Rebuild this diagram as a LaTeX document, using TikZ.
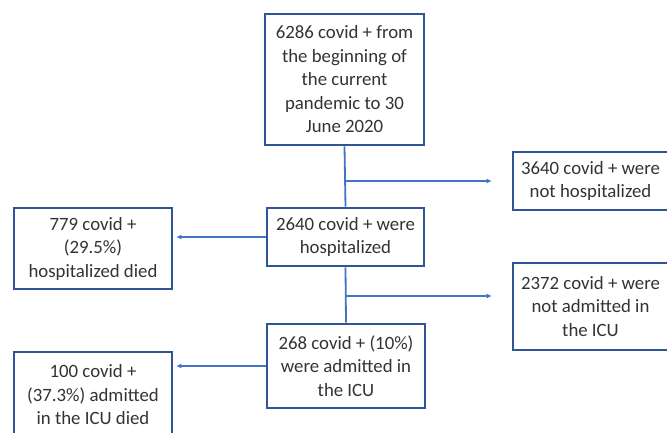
\documentclass[tikz,border=0pt]{standalone}
\usepackage{fontspec}
\setmainfont{Carlito}
\usetikzlibrary{arrows.meta}

\definecolor{boxblue}{HTML}{2F5597}
\definecolor{lineblue}{HTML}{4472C4}
\definecolor{txtgray}{HTML}{333333}

\tikzset{
  covbox/.style={draw=boxblue, line width=2.6pt, fill=white, text=txtgray,
    align=center, inner sep=0pt, font=\fontsize{18.8}{23.5}\selectfont},
  link/.style={draw=lineblue, line width=1.8pt},
  flow/.style={link, -{Latex[length=5pt,width=5pt]}}
}

\begin{document}
\begin{tikzpicture}[x=1pt, y=-1pt]
\clip (0, 0) rectangle (667, 432);
\fill[white] (0, 0) rectangle (667, 432);

% main column
\node[covbox, minimum width=159pt, minimum height=131pt] (start) at (344.5, 79.5)
  {6286 covid + from\\the beginning of\\the current\\pandemic to 30\\June 2020};
\node[covbox, minimum width=157pt, minimum height=58pt] (hosp) at (345.5, 237)
  {2640 covid + were\\hospitalized};
\node[covbox, minimum width=158pt, minimum height=84pt] (icu) at (346, 366)
  {268 covid + (10\%)\\were admitted in\\the ICU};

% right side
\node[covbox, minimum width=155pt, minimum height=58pt] (nothosp) at (590.5, 181)
  {3640 covid + were\\not hospitalized};
\node[covbox, minimum width=155pt, minimum height=87pt] (noticu) at (590.5, 306.5)
  {2372 covid + were\\not admitted in\\the ICU};

% left side
\node[covbox, minimum width=158pt, minimum height=81pt] (died) at (93, 248.5)
  {779 covid +\\(29.5\%)\\hospitalized died};
\node[covbox, minimum width=158pt, minimum height=86pt] (icudied) at (93, 395)
  {100 covid +\\(37.3\%) admitted\\in the ICU died};

% connectors
\draw[link] (start.south) -- (hosp.north);
\draw[link] (hosp.south) -- (icu.north);
\coordinate (b1) at (start.south |- nothosp.west);
\coordinate (b2) at (345, 296);
\draw[flow, shorten >=20pt] (b1) -- (nothosp.west);
\draw[flow, shorten >=20pt] (b2) -- (b2 -| noticu.west);
\draw[flow, shorten >=3pt] (hosp.west) -- (hosp.west -| died.east);
\draw[flow, shorten >=3pt] (icu.west) -- (icu.west -| icudied.east);
\end{tikzpicture}
\end{document}
